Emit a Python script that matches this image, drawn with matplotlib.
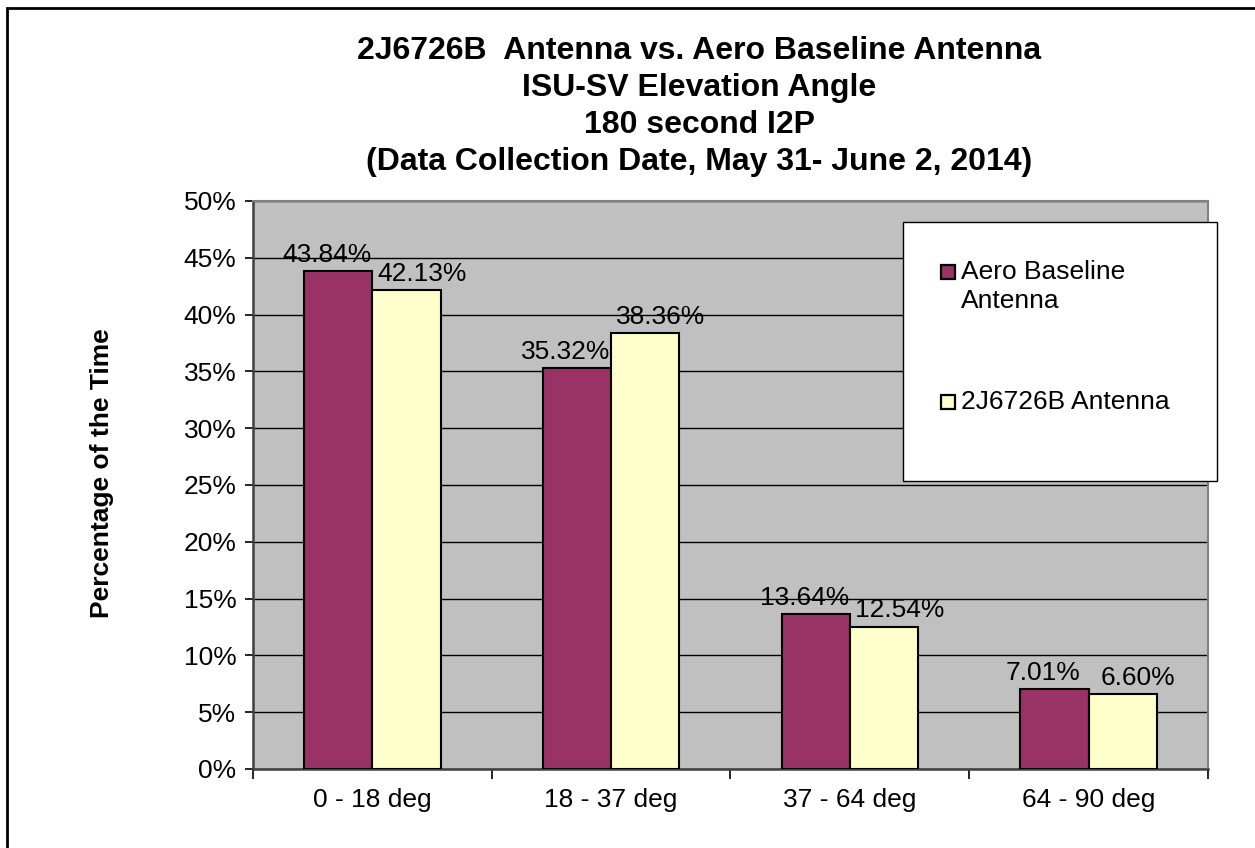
import matplotlib

matplotlib.use("Agg")
import matplotlib.pyplot as plt
from matplotlib.patches import Rectangle
from matplotlib.ticker import FuncFormatter, MultipleLocator
import numpy as np

plt.rcParams["font.family"] = ["Liberation Sans", "DejaVu Sans"]

categories = ["0 - 18 deg", "18 - 37 deg", "37 - 64 deg", "64 - 90 deg"]
aero = [43.84, 35.32, 13.64, 7.01]
antenna_2j = [42.13, 38.36, 12.54, 6.60]
series_names = ["Aero Baseline\nAntenna", "2J6726B Antenna"]
title_lines = [
    "2J6726B  Antenna vs. Aero Baseline Antenna",
    "ISU-SV Elevation Angle",
    "180 second I2P",
    "(Data Collection Date, May 31- June 2, 2014)",
]

MAROON = "#993366"
CREAM = "#FFFFCC"
GREY = "#C0C0C0"
W, H = 1255, 848  # pixel size, used for placing the annotations


def fx(px):
    return px / W


def fy(py):
    return 1 - py / H


fig = plt.figure(figsize=(12.55, 8.48), dpi=100)
ax = fig.add_axes([0.2016, 0.0932, 0.7609, 0.6698])

x = np.arange(len(categories))
w = 1 / 3.5
b1 = ax.bar(x - w / 2, aero, w, color=MAROON, edgecolor="black", lw=1.5, zorder=3)
b2 = ax.bar(x + w / 2, antenna_2j, w, color=CREAM, edgecolor="black", lw=1.5, zorder=3)

for rect, v in zip(b1, aero):
    ax.annotate(f"{v:.2f}%", (rect.get_x() + rect.get_width() / 2, v),
                xytext=(-8, 3), textcoords="offset points", ha="center", va="bottom",
                fontsize=19, zorder=4)
for rect, v in zip(b2, antenna_2j):
    ax.annotate(f"{v:.2f}%", (rect.get_x() + rect.get_width() / 2, v),
                xytext=(11, 3), textcoords="offset points", ha="center", va="bottom",
                fontsize=19, zorder=4)

ax.set_facecolor(GREY)
ax.set_xlim(-0.5, len(categories) - 0.5)
ax.set_ylim(0, 50)
ax.yaxis.set_major_locator(MultipleLocator(5))
ax.yaxis.set_major_formatter(FuncFormatter(lambda v, _: f"{v:.0f}%"))
ax.grid(axis="y", color="black", lw=1.0, zorder=1)
ax.tick_params(axis="y", labelsize=19, length=6, width=1.2, pad=6, color="black")

ax.set_xticks(x)
ax.set_xticklabels(categories, fontsize=19)
ax.tick_params(axis="x", length=0, pad=14)
ax.set_xticks(np.arange(-0.5, len(categories)), minor=True)
ax.tick_params(axis="x", which="minor", length=7, width=1.2, color="black")

for side in ["top", "right"]:
    ax.spines[side].set_color("#808080")
    ax.spines[side].set_linewidth(1.5)
for side in ["left", "bottom"]:
    ax.spines[side].set_color("#404040")
    ax.spines[side].set_linewidth(1.8)

ax.set_ylabel("Percentage of the Time", fontsize=19, fontweight="bold")
ax.yaxis.set_label_coords(-0.146, 0.52)

for i, line in enumerate(title_lines):
    fig.text(fx(699), fy(51 + 37 * i), line, ha="center", va="center",
             fontsize=23, fontweight="bold")

# legend box, drawn by hand so the swatch lines up with the first text line
fig.patches.append(Rectangle((fx(903), fy(481)), 314 / W, 259 / H,
                             transform=fig.transFigure, facecolor="white",
                             edgecolor="black", lw=1.0, zorder=5))
for name, color, ytop in zip(series_names, [MAROON, CREAM], [272, 402]):
    fig.patches.append(Rectangle((fx(941), fy(ytop + 7)), 14 / W, 14 / H,
                                 transform=fig.transFigure, facecolor=color,
                                 edgecolor="black", lw=1.6, zorder=6))
    fig.text(fx(961), fy(ytop - 12), name, ha="left", va="top", fontsize=19,
             linespacing=1.25, zorder=6)

# outer border (left and top visible)
fig.patches.append(Rectangle((fx(7), -0.1), 1.2, fy(8) + 0.1,
                             transform=fig.transFigure, facecolor="none",
                             edgecolor="black", lw=2.0))

fig.savefig("out.png", dpi=100)
